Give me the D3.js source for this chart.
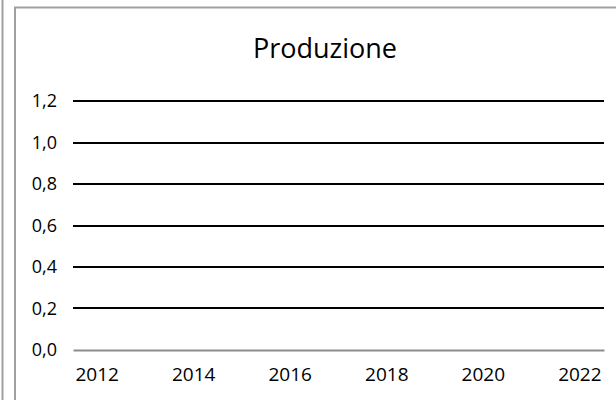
<!DOCTYPE html>
<html>
<head>
<meta charset="utf-8">
<script src="https://cdn.jsdelivr.net/npm/d3@7"></script>
<style>
  body { margin: 0; background: #fff; }
  svg { display: block; font-family: "Open Sans", sans-serif; }
</style>
</head>
<body>
<div id="chart"></div>
<script>
// dati del grafico (nessuna serie visibile, solo assi)
const years = ['2012', '2013', '2014', '2015', '2016', '2017', '2018', '2019', '2020', '2021', '2022']
const yearLabels = ['2012', '2014', '2016', '2018', '2020', '2022']
const yTicks = [0, 0.2, 0.4, 0.6, 0.8, 1.0, 1.2]
const produzione = [] // serie vuota
const title = 'Produzione'

const WIDTH = 616
const HEIGHT = 400
const margin = { left: 73, right: 12, top: 101, bottom: 50 }

const svg = d3.select('#chart')
  .append('svg')
  .attr('width', WIDTH)
  .attr('height', HEIGHT)

// bordo del grafico accanto
svg.append('line')
  .attr('x1', 2.5).attr('x2', 2.5)
  .attr('y1', 0).attr('y2', HEIGHT)
  .attr('stroke', '#a0a0a0').attr('stroke-width', 2)

// cornice dell'area grafico
svg.append('rect')
  .attr('x', 15).attr('y', 7.5)
  .attr('width', WIDTH).attr('height', HEIGHT)
  .attr('fill', 'none')
  .attr('stroke', '#a0a0a0').attr('stroke-width', 2)

const x = d3.scaleBand()
  .domain(years)
  .range([margin.left, WIDTH - margin.right])

const y = d3.scaleLinear()
  .domain([0, 1.2])
  .range([HEIGHT - margin.bottom, margin.top])

const fmt = d => d3.format('.1f')(d).replace('.', ',')

// griglia orizzontale
svg.append('g')
  .selectAll('line')
  .data(yTicks.filter(d => d > 0))
  .enter()
  .append('line')
  .attr('x1', margin.left)
  .attr('x2', WIDTH - margin.right)
  .attr('y1', d => Math.round(y(d)))
  .attr('y2', d => Math.round(y(d)))
  .attr('stroke', '#000')
  .attr('stroke-width', 2)

// asse x (linea grigia a zero)
const xAxis = svg.append('g')
  .attr('transform', `translate(0,${Math.round(y(0))})`)
  .call(d3.axisBottom(x).tickValues(yearLabels).tickSize(0).tickPadding(18))
xAxis.select('.domain').attr('stroke', '#8c8c8c').attr('stroke-width', 2)
xAxis.selectAll('text')
  .attr('font-size', 19)
  .attr('font-family', '"Open Sans", sans-serif')
  .attr('fill', '#000')

// asse y
const yAxis = svg.append('g')
  .attr('transform', `translate(${margin.left},0)`)
  .call(d3.axisLeft(y).tickValues(yTicks).tickFormat(fmt).tickSize(0).tickPadding(16))
yAxis.select('.domain').remove()
yAxis.selectAll('text')
  .attr('font-size', 18)
  .attr('font-family', '"Open Sans", sans-serif')
  .attr('fill', '#000')

// serie (vuota)
svg.append('path')
  .datum(produzione)
  .attr('fill', 'none')
  .attr('stroke', '#4472c4')
  .attr('d', d3.line().x(d => x(d.year) + x.bandwidth() / 2).y(d => y(d.value)))

// titolo
svg.append('text')
  .attr('x', 325)
  .attr('y', 58)
  .attr('text-anchor', 'middle')
  .attr('font-size', 27)
  .attr('fill', '#000')
  .text(title)
</script>
</body>
</html>
